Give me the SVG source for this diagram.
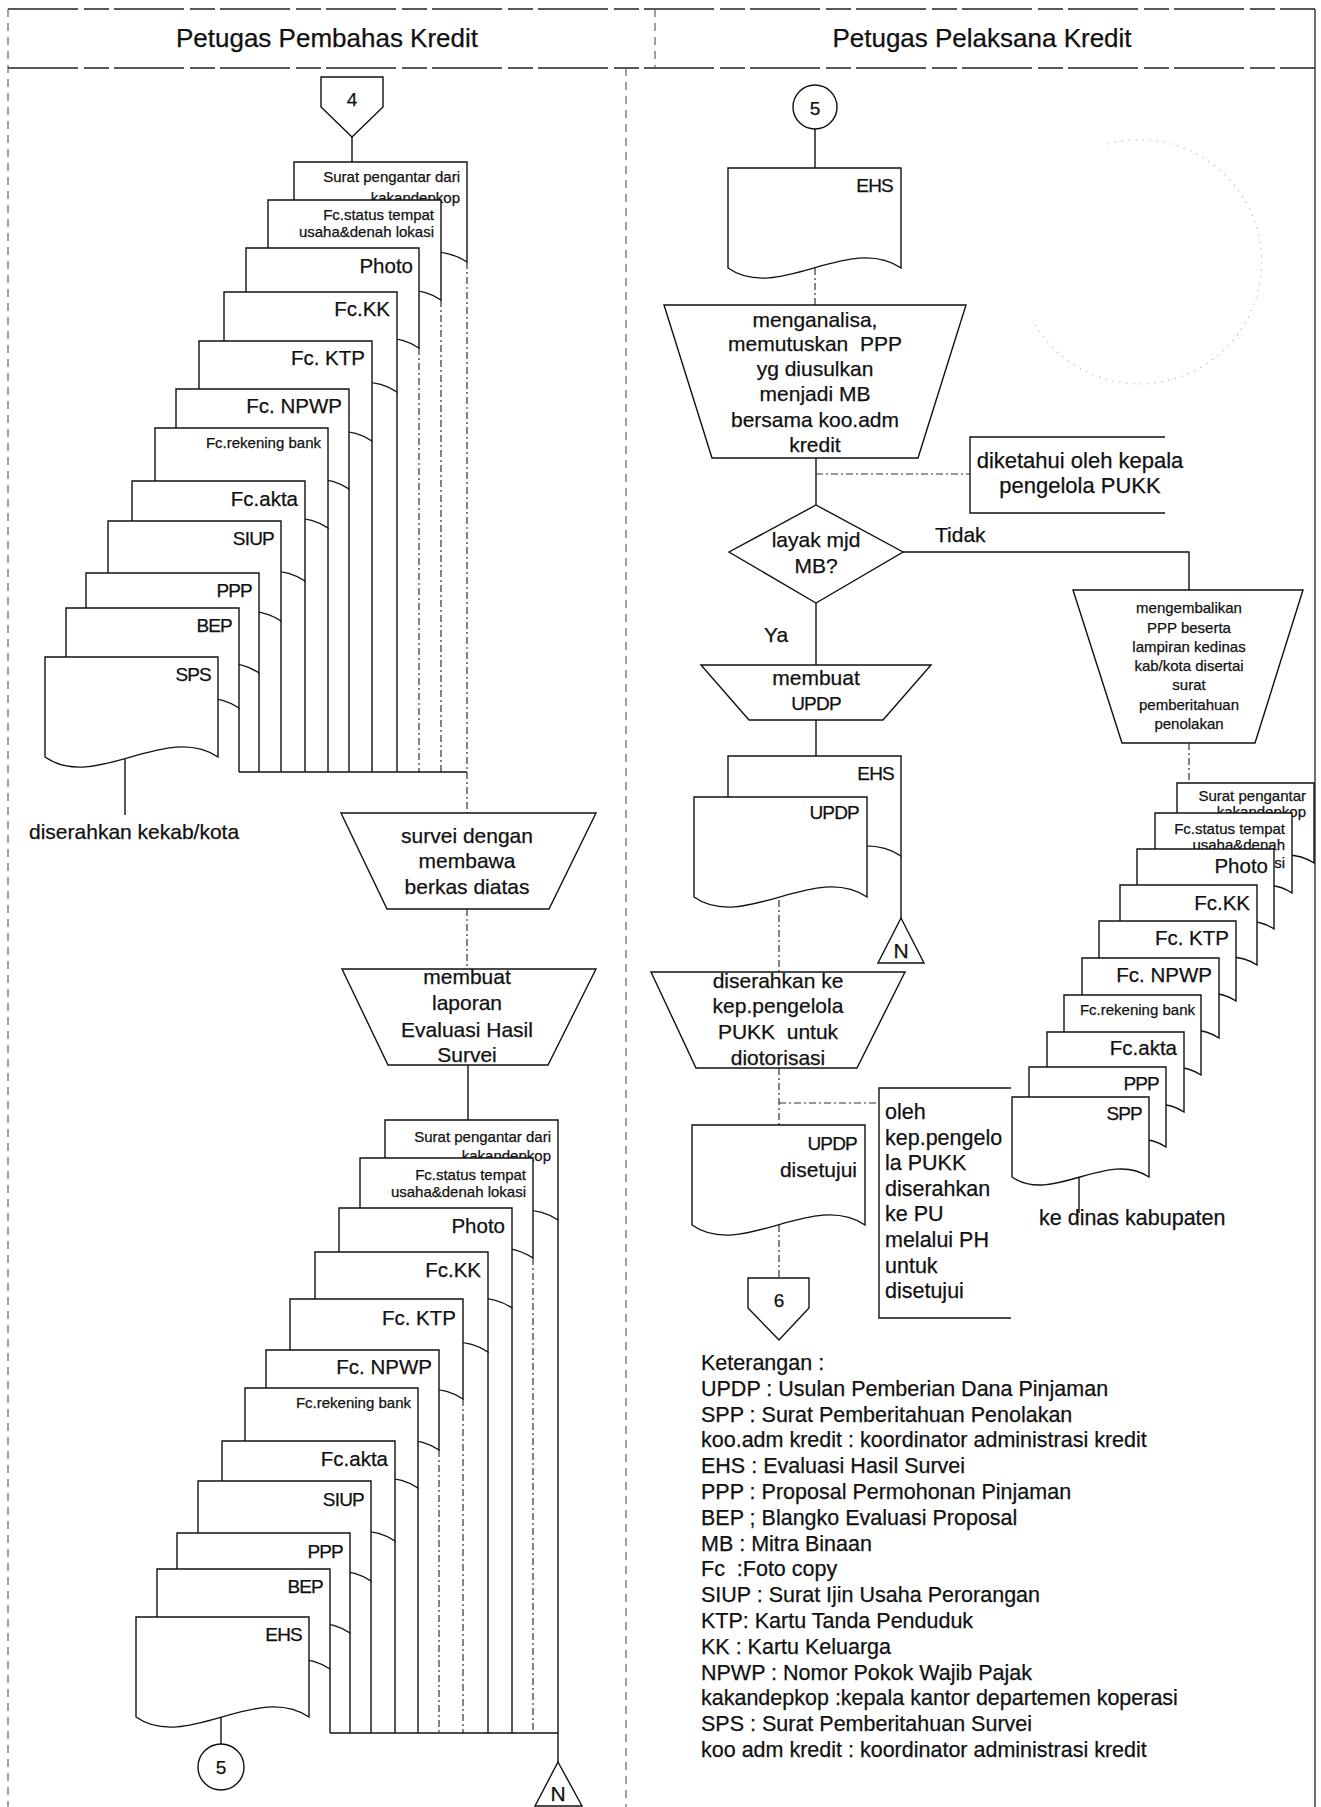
<svg xmlns="http://www.w3.org/2000/svg" xmlns:xlink="http://www.w3.org/1999/xlink" width="1321" height="1807" viewBox="0 0 1321 1807">
<style>
  .frame{stroke:#222;stroke-width:1.5;fill:none;stroke-dasharray:70 6 25 5}
  .lane{stroke:#555;stroke-width:1.1;fill:none;stroke-dasharray:8 6}
  .edge{stroke:#222;stroke-width:1.3;fill:none}
  .ln{stroke:#111;stroke-width:1.4;fill:none}
  .dl{stroke:#333;stroke-width:1.2;fill:none;stroke-dasharray:7 3 2 3}
  .shape{fill:#fff;stroke:#111;stroke-width:1.4}
  .open{fill:none;stroke:#111;stroke-width:1.4}
  .stamp{fill:none;stroke:#aaa;stroke-width:1.2;stroke-dasharray:1 6}
  text{font-family:"Liberation Sans",Arial,sans-serif;fill:#111;stroke:#111;stroke-width:0.25}
  .hd{font-size:26px;text-anchor:middle}
  .b{font-size:21px}
  .c{text-anchor:middle}
  .r{text-anchor:end}
  .s{font-size:15px}
  .lb{font-size:20.5px}
  .ab{font-size:19px;letter-spacing:-0.8px}
  .pre{white-space:pre}
</style>
<defs>
  <!-- document symbol, large and small -->
  <path id="docL" d="M0,0 H173 V100 C121,65 50,135 0,100 Z"/>
  <path id="docS" d="M0,0 H137 V80 C96,52 40,108 0,80 Z"/>
</defs>

<!-- swimlane frame -->
<g id="frame">
  <rect x="0" y="0" width="1321" height="1807" fill="#fff"/>
  <line class="frame" x1="8" y1="9" x2="1315" y2="9"/>
  <line class="frame" x1="8" y1="68" x2="1315" y2="68"/>
  <line class="lane" x1="8" y1="9" x2="8" y2="1807"/>
  <line class="lane" x1="626" y1="68" x2="626" y2="1807"/>
  <line class="lane" x1="655" y1="9" x2="655" y2="68"/>
  <line class="edge" x1="1315" y1="9" x2="1315" y2="1807"/>
  <text class="hd" x="327" y="47">Petugas Pembahas Kredit</text>
  <text class="hd" x="982" y="47">Petugas Pelaksana Kredit</text>
  <path class="stamp" d="M1108,144 A122 122 0 1 1 1034,323"/>
</g>

<!-- connectors -->
<g id="connectors">
  <line class="ln" x1="352" y1="137" x2="352" y2="162"/>
  <!-- upper stack to survey -->
  <line class="dl" x1="467" y1="262" x2="467" y2="813"/>
  <line class="dl" x1="441" y1="300" x2="441" y2="772"/>
  <line class="dl" x1="419" y1="348" x2="419" y2="772"/>
  <line class="ln" x1="397" y1="392" x2="397" y2="772"/>
  <line class="ln" x1="372" y1="441" x2="372" y2="772"/>
  <line class="ln" x1="349" y1="489" x2="349" y2="772"/>
  <line class="ln" x1="328" y1="528" x2="328" y2="772"/>
  <line class="ln" x1="305" y1="581" x2="305" y2="772"/>
  <line class="ln" x1="281" y1="621" x2="281" y2="772"/>
  <line class="ln" x1="259" y1="673" x2="259" y2="772"/>
  <line class="ln" x1="239" y1="708" x2="239" y2="772"/>
  <line class="ln" x1="239" y1="772" x2="467" y2="772"/>
  <line class="ln" x1="125" y1="757" x2="125" y2="815"/>
  <line class="dl" x1="467" y1="909" x2="467" y2="969"/>
  <line class="ln" x1="468" y1="1065" x2="468" y2="1120"/>
  <!-- lower stack to N -->
  <line class="ln" x1="558" y1="1220" x2="558" y2="1762"/>
  <line class="dl" x1="533" y1="1258" x2="533" y2="1733"/>
  <line class="ln" x1="512" y1="1308" x2="512" y2="1733"/>
  <line class="ln" x1="488" y1="1352" x2="488" y2="1733"/>
  <line class="dl" x1="463" y1="1399" x2="463" y2="1733"/>
  <line class="dl" x1="439" y1="1450" x2="439" y2="1733"/>
  <line class="ln" x1="418" y1="1488" x2="418" y2="1733"/>
  <line class="ln" x1="395" y1="1541" x2="395" y2="1733"/>
  <line class="ln" x1="371" y1="1581" x2="371" y2="1733"/>
  <line class="ln" x1="350" y1="1633" x2="350" y2="1733"/>
  <line class="ln" x1="330" y1="1669" x2="330" y2="1733"/>
  <line class="ln" x1="330" y1="1733" x2="558" y2="1733"/>
  <line class="ln" x1="221" y1="1717" x2="221" y2="1744"/>
  <!-- right lane -->
  <line class="ln" x1="815" y1="129" x2="815" y2="168"/>
  <line class="dl" x1="815" y1="268" x2="815" y2="305"/>
  <line class="ln" x1="816" y1="458" x2="816" y2="505"/>
  <line class="dl" x1="816" y1="474" x2="970" y2="474"/>
  <polyline class="ln" points="903,552 1189,552 1189,590"/>
  <line class="ln" x1="816" y1="603" x2="816" y2="665"/>
  <line class="ln" x1="816" y1="720" x2="816" y2="756"/>
  <line class="ln" x1="901" y1="856" x2="901" y2="918"/>
  <line class="dl" x1="779" y1="900" x2="779" y2="972"/>
  <line class="dl" x1="779" y1="1068" x2="779" y2="1125"/>
  <line class="dl" x1="779" y1="1103" x2="879" y2="1103"/>
  <line class="dl" x1="779" y1="1225" x2="779" y2="1278"/>
  <line class="dl" x1="1189" y1="743" x2="1189" y2="783"/>
  <line class="ln" x1="1079" y1="1177" x2="1079" y2="1213"/>
  <text class="b" x="935" y="542">Tidak</text>
  <text class="b" x="764" y="642">Ya</text>
</g>

<!-- left lane nodes -->
<g id="off-page-4">
  <path class="shape" d="M321,77 H383 V107 L352,137 L321,107 Z"/>
  <text class="c" x="352" y="106" font-size="19">4</text>
</g>
<g id="upper-docs">
  <g id="u-surat"><use href="#docL" x="294" y="162" class="shape"/><text class="s r" x="460" y="182">Surat pengantar dari</text><text class="s r" x="460" y="203">kakandepkop</text></g>
  <g id="u-status"><use href="#docL" x="268" y="200" class="shape"/><text class="s r" x="434" y="220">Fc.status tempat</text><text class="s r" x="434" y="237">usaha&amp;denah lokasi</text></g>
  <g id="u-photo"><use href="#docL" x="246" y="248" class="shape"/><text class="lb r" x="413" y="273">Photo</text></g>
  <g id="u-kk"><use href="#docL" x="224" y="292" class="shape"/><text class="lb r" x="390" y="316">Fc.KK</text></g>
  <g id="u-ktp"><use href="#docL" x="199" y="341" class="shape"/><text class="lb r" x="365" y="365">Fc. KTP</text></g>
  <g id="u-npwp"><use href="#docL" x="176" y="389" class="shape"/><text class="lb r" x="342" y="413">Fc. NPWP</text></g>
  <g id="u-rek"><use href="#docL" x="155" y="428" class="shape"/><text class="s r" x="321" y="448">Fc.rekening bank</text></g>
  <g id="u-akta"><use href="#docL" x="132" y="481" class="shape"/><text class="lb r" x="298" y="506">Fc.akta</text></g>
  <g id="u-siup"><use href="#docL" x="108" y="521" class="shape"/><text class="ab r" x="274" y="545">SIUP</text></g>
  <g id="u-ppp"><use href="#docL" x="86" y="573" class="shape"/><text class="ab r" x="252" y="597">PPP</text></g>
  <g id="u-bep"><use href="#docL" x="66" y="608" class="shape"/><text class="ab r" x="232" y="632">BEP</text></g>
  <g id="u-sps"><use href="#docL" x="45" y="657" class="shape"/><text class="ab r" x="211" y="681">SPS</text></g>
</g>
<g id="to-kab"><text class="b" x="29" y="839">diserahkan kekab/kota</text></g>
<g id="survei">
  <path class="shape" d="M341,813 L596,813 L549,909 L387,909 Z"/>
  <text class="b c" x="467" y="843">survei dengan</text>
  <text class="b c" x="467" y="868">membawa</text>
  <text class="b c" x="467" y="894">berkas diatas</text>
</g>
<g id="laporan">
  <path class="shape" d="M342,969 L596,969 L548,1065 L388,1065 Z"/>
  <text class="b c" x="467" y="984">membuat</text>
  <text class="b c" x="467" y="1010">laporan</text>
  <text class="b c" x="467" y="1037">Evaluasi Hasil</text>
  <text class="b c" x="467" y="1062">Survei</text>
</g>
<g id="lower-docs">
  <g id="l-surat"><use href="#docL" x="385" y="1120" class="shape"/><text class="s r" x="551" y="1142">Surat pengantar dari</text><text class="s r" x="551" y="1161">kakandepkop</text></g>
  <g id="l-status"><use href="#docL" x="360" y="1158" class="shape"/><text class="s r" x="526" y="1180">Fc.status tempat</text><text class="s r" x="526" y="1197">usaha&amp;denah lokasi</text></g>
  <g id="l-photo"><use href="#docL" x="339" y="1208" class="shape"/><text class="lb r" x="505" y="1233">Photo</text></g>
  <g id="l-kk"><use href="#docL" x="315" y="1252" class="shape"/><text class="lb r" x="481" y="1277">Fc.KK</text></g>
  <g id="l-ktp"><use href="#docL" x="290" y="1299" class="shape"/><text class="lb r" x="456" y="1325">Fc. KTP</text></g>
  <g id="l-npwp"><use href="#docL" x="266" y="1350" class="shape"/><text class="lb r" x="432" y="1374">Fc. NPWP</text></g>
  <g id="l-rek"><use href="#docL" x="245" y="1388" class="shape"/><text class="s r" x="411" y="1408">Fc.rekening bank</text></g>
  <g id="l-akta"><use href="#docL" x="222" y="1441" class="shape"/><text class="lb r" x="388" y="1466">Fc.akta</text></g>
  <g id="l-siup"><use href="#docL" x="198" y="1481" class="shape"/><text class="ab r" x="364" y="1506">SIUP</text></g>
  <g id="l-ppp"><use href="#docL" x="177" y="1533" class="shape"/><text class="ab r" x="343" y="1558">PPP</text></g>
  <g id="l-bep"><use href="#docL" x="157" y="1569" class="shape"/><text class="ab r" x="323" y="1593">BEP</text></g>
  <g id="l-ehs"><use href="#docL" x="136" y="1617" class="shape"/><text class="ab r" x="302" y="1641">EHS</text></g>
</g>
<g id="on-page-5b">
  <circle class="shape" cx="221" cy="1767" r="23"/>
  <text class="c" x="221" y="1774" font-size="19">5</text>
</g>
<g id="store-n-left">
  <path class="shape" d="M558,1762 L582,1806 L535,1806 Z"/>
  <text class="c" x="558" y="1801" font-size="21">N</text>
</g>

<!-- right lane nodes -->
<g id="on-page-5a">
  <circle class="shape" cx="815" cy="107" r="22"/>
  <text class="c" x="815" y="115" font-size="19">5</text>
</g>
<g id="ehs-in"><use href="#docL" x="728" y="168" class="shape"/><text class="ab r" x="893" y="192">EHS</text></g>
<g id="analisa">
  <path class="shape" d="M664,305 L966,305 L918,458 L712,458 Z"/>
  <text class="b c" x="815" y="327">menganalisa,</text>
  <text class="b c pre" x="815" y="351">memutuskan  PPP</text>
  <text class="b c" x="815" y="376">yg diusulkan</text>
  <text class="b c" x="815" y="401">menjadi MB</text>
  <text class="b c" x="815" y="427">bersama koo.adm</text>
  <text class="b c" x="815" y="452">kredit</text>
</g>
<g id="diketahui">
  <path class="open" d="M1165,437 H970 V513 H1165"/>
  <text class="c" x="1080" y="468" font-size="22">diketahui oleh kepala</text>
  <text class="c" x="1080" y="493" font-size="22">pengelola PUKK</text>
</g>
<g id="layak">
  <path class="shape" d="M816,505 L903,552 L816,603 L729,552 Z"/>
  <text class="b c" x="816" y="547">layak mjd</text>
  <text class="b c" x="816" y="573">MB?</text>
</g>
<g id="buat-updp">
  <path class="shape" d="M701,665 L931,665 L883,720 L749,720 Z"/>
  <text class="b c" x="816" y="685">membuat</text>
  <text class="ab c" x="816" y="710">UPDP</text>
</g>
<g id="ehs-updp">
  <use href="#docL" x="728" y="756" class="shape"/><text class="ab r" x="894" y="780">EHS</text>
  <use href="#docL" x="694" y="797" class="shape"/><text class="ab r" x="859" y="819">UPDP</text>
</g>
<g id="store-n-right">
  <path class="shape" d="M901,918 L924,963 L878,963 Z"/>
  <text class="c" x="901" y="958" font-size="21">N</text>
</g>
<g id="otorisasi">
  <path class="shape" d="M651,972 L905,972 L857,1068 L696,1068 Z"/>
  <text class="b c" x="778" y="988">diserahkan ke</text>
  <text class="b c" x="778" y="1013">kep.pengelola</text>
  <text class="b c pre" x="778" y="1039">PUKK  untuk</text>
  <text class="b c" x="778" y="1065">diotorisasi</text>
</g>
<g id="oleh">
  <path class="open" d="M1011,1088 H879 V1318 H1011"/>
  <text font-size="21.5" x="885" y="1119">oleh</text>
  <text font-size="21.5" x="885" y="1145">kep.pengelo</text>
  <text font-size="21.5" x="885" y="1170">la PUKK</text>
  <text font-size="21.5" x="885" y="1196">diserahkan</text>
  <text font-size="21.5" x="885" y="1221">ke PU</text>
  <text font-size="21.5" x="885" y="1247">melalui PH</text>
  <text font-size="21.5" x="885" y="1273">untuk</text>
  <text font-size="21.5" x="885" y="1298">disetujui</text>
</g>
<g id="updp-ok">
  <use href="#docL" x="692" y="1125" class="shape"/>
  <text class="ab r" x="857" y="1150">UPDP</text>
  <text class="b r" x="857" y="1177">disetujui</text>
</g>
<g id="off-page-6">
  <path class="shape" d="M748,1278 H809 V1308 L779,1340 L748,1308 Z"/>
  <text class="c" x="779" y="1307" font-size="19">6</text>
</g>
<g id="tolak">
  <path class="shape" d="M1073,590 L1303,590 L1255,743 L1122,743 Z"/>
  <text class="s c" x="1189" y="613">mengembalikan</text>
  <text class="s c" x="1189" y="633">PPP beserta</text>
  <text class="s c" x="1189" y="652">lampiran kedinas</text>
  <text class="s c" x="1189" y="671">kab/kota disertai</text>
  <text class="s c" x="1189" y="690">surat</text>
  <text class="s c" x="1189" y="710">pemberitahuan</text>
  <text class="s c" x="1189" y="729">penolakan</text>
</g>
<g id="return-docs">
  <g id="r-surat"><use href="#docS" x="1177" y="783" class="shape"/><text class="s r" x="1306" y="801">Surat pengantar</text><text class="s r" x="1306" y="817">kakandepkop</text></g>
  <g id="r-status"><use href="#docS" x="1155" y="813" class="shape"/><text class="s r" x="1285" y="834">Fc.status tempat</text><text class="s r" x="1285" y="850">usaha&amp;denah</text><text class="s r" x="1285" y="868">si</text></g>
  <g id="r-photo"><use href="#docS" x="1137" y="849" class="shape"/><text class="lb r" x="1268" y="873">Photo</text></g>
  <g id="r-kk"><use href="#docS" x="1120" y="885" class="shape"/><text class="lb r" x="1250" y="910">Fc.KK</text></g>
  <g id="r-ktp"><use href="#docS" x="1099" y="921" class="shape"/><text class="lb r" x="1229" y="945">Fc. KTP</text></g>
  <g id="r-npwp"><use href="#docS" x="1082" y="958" class="shape"/><text class="lb r" x="1212" y="982">Fc. NPWP</text></g>
  <g id="r-rek"><use href="#docS" x="1064" y="995" class="shape"/><text class="s r" x="1195" y="1015">Fc.rekening bank</text></g>
  <g id="r-akta"><use href="#docS" x="1047" y="1032" class="shape"/><text class="lb r" x="1177" y="1055">Fc.akta</text></g>
  <g id="r-ppp"><use href="#docS" x="1029" y="1067" class="shape"/><text class="ab r" x="1159" y="1090">PPP</text></g>
  <g id="r-spp"><use href="#docS" x="1012" y="1097" class="shape"/><text class="ab r" x="1142" y="1120">SPP</text></g>
</g>
<g id="to-dinas"><text x="1039" y="1225" font-size="21.5">ke dinas kabupaten</text></g>

<!-- legend -->
<g id="keterangan" font-size="21.5">
  <text x="701" y="1370">Keterangan :</text>
  <text x="701" y="1396">UPDP : Usulan Pemberian Dana Pinjaman</text>
  <text x="701" y="1422">SPP : Surat Pemberitahuan Penolakan</text>
  <text x="701" y="1447">koo.adm kredit : koordinator administrasi kredit</text>
  <text x="701" y="1473">EHS : Evaluasi Hasil Survei</text>
  <text x="701" y="1499">PPP : Proposal Permohonan Pinjaman</text>
  <text x="701" y="1525">BEP ; Blangko Evaluasi Proposal</text>
  <text x="701" y="1551">MB : Mitra Binaan</text>
  <text class="pre" x="701" y="1576">Fc  :Foto copy</text>
  <text x="701" y="1602">SIUP : Surat Ijin Usaha Perorangan</text>
  <text x="701" y="1628">KTP: Kartu Tanda Penduduk</text>
  <text x="701" y="1654">KK : Kartu Keluarga</text>
  <text x="701" y="1680">NPWP : Nomor Pokok Wajib Pajak</text>
  <text x="701" y="1705">kakandepkop :kepala kantor departemen koperasi</text>
  <text x="701" y="1731">SPS : Surat Pemberitahuan Survei</text>
  <text x="701" y="1757">koo adm kredit : koordinator administrasi kredit</text>
</g>
</svg>
